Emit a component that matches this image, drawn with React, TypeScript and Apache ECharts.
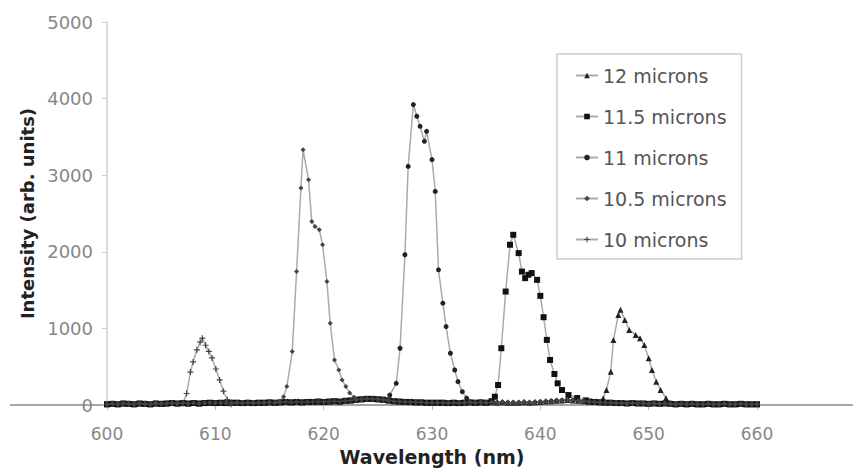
import React, { useEffect, useRef } from "react";
import * as echarts from "echarts";

const seriesNames = ["12 microns", "11.5 microns", "11 microns", "10.5 microns", "10 microns"];

const baselineX = [
  600, 600.5, 601, 601.5, 602, 602.5, 603, 603.5, 604, 604.5, 605, 605.5, 606, 606.5, 607, 607.5,
  608, 608.5, 609, 609.5, 610, 610.5, 611, 611.5, 612, 612.5, 613, 613.5, 614, 614.5, 615, 615.5,
  616, 616.5, 617, 617.5, 618, 618.5, 619, 619.5, 620, 620.5, 621, 621.5, 622, 622.5, 623, 623.5,
  624, 624.5, 625, 625.5, 626, 626.5, 627, 627.5, 628, 628.5, 629, 629.5, 630, 630.5, 631, 631.5,
  632, 632.5, 633, 633.5, 634, 634.5, 635, 635.5, 636, 636.5, 637, 637.5, 638, 638.5, 639, 639.5,
  640, 640.5, 641, 641.5, 642, 642.5, 643, 643.5, 644, 644.5, 645, 645.5, 646, 646.5, 647, 647.5,
  648, 648.5, 649, 649.5, 650, 650.5, 651, 651.5, 652, 652.5, 653, 653.5, 654, 654.5, 655, 655.5,
  656, 656.5, 657, 657.5, 658, 658.5, 659, 659.5, 660,
];
const baselineY = [
  10, 15, 10, 20, 15, 10, 20, 15, 10, 20, 15, 20, 25, 20, 25, 20,
  25, 20, 25, 30, 25, 30, 25, 30, 30, 25, 30, 25, 30, 30, 35, 30,
  35, 40, 35, 40, 35, 40, 40, 45, 40, 45, 50, 45, 55, 60, 70, 75,
  80, 80, 75, 70, 60, 50, 45, 40, 40, 35, 35, 30, 30, 30, 30, 25,
  30, 25, 30, 35, 30, 35, 30, 35, 30, 35, 30, 30, 30, 35, 30, 35,
  40, 45, 50, 55, 60, 65, 60, 55, 50, 45, 40, 35, 30, 30, 25, 25,
  20, 25, 20, 20, 15, 20, 15, 20, 15, 10, 15, 10, 15, 10, 10, 15,
  10, 10, 15, 10, 10, 15, 10, 10, 10,
];

// 12 microns peak (~648 nm)
const peak12X = [645.4, 645.8, 646.1, 646.5, 646.75, 647.2, 647.4, 647.8, 648.2, 648.8, 649.2, 649.6, 650.0, 650.3, 650.7, 651.1, 651.6, 652.0];
const peak12Y = [40, 88, 196, 435, 850, 1176, 1242, 1111, 980, 915, 871, 784, 610, 457, 305, 196, 88, 30];

// 11.5 microns peak (~638 nm)
const peak115X = [635.5, 635.8, 636.1, 636.4, 636.8, 637.2, 637.5, 638.0, 638.3, 638.6, 638.9, 639.2, 639.7, 640.0, 640.3, 640.6, 640.9, 641.3, 641.6, 642.0, 642.6, 643.4, 644.2];
const peak115Y = [50, 108, 261, 741, 1481, 2092, 2222, 1983, 1742, 1656, 1700, 1722, 1634, 1425, 1146, 850, 588, 405, 283, 196, 130, 91, 60];

// 11 microns peak (~628 nm)
const peak11X = [625.8, 626.1, 626.7, 627.05, 627.5, 627.8, 628.28, 628.6, 628.9, 629.3, 629.5, 630.0, 630.3, 630.6, 631.0, 631.3, 631.7, 632.1, 632.4, 632.8, 633.2];
const peak11Y = [60, 130, 283, 741, 1961, 3115, 3922, 3770, 3638, 3442, 3573, 3203, 2788, 1765, 1329, 1024, 676, 457, 305, 174, 90];

// 10.5 microns peak (~618 nm)
const peak105X = [615.9, 616.3, 616.6, 617.1, 617.5, 617.9, 618.1, 618.6, 618.9, 619.2, 619.6, 619.9, 620.3, 620.6, 621.0, 621.4, 621.7, 622.05, 622.4, 622.8];
const peak105Y = [40, 108, 240, 697, 1742, 2832, 3333, 2941, 2396, 2330, 2288, 2092, 1612, 1068, 588, 457, 327, 240, 157, 100];

// 10 microns peak (~609 nm)
const peak10X = [607.0, 607.35, 607.7, 607.95, 608.3, 608.6, 608.8, 609.1, 609.4, 609.7, 610.05, 610.4, 610.75, 611.1, 611.45];
const peak10Y = [20, 150, 430, 562, 720, 820, 872, 780, 700, 614, 470, 327, 180, 70, 10];

const yTicks = [0, 1000, 2000, 3000, 4000, 5000];
const xTicks = [600, 610, 620, 630, 640, 650, 660];

const peaksX = [peak12X, peak115X, peak11X, peak105X, peak10X];
const peaksY = [peak12Y, peak115Y, peak11Y, peak105Y, peak10Y];

const plusPath = "path://M4,0 L6,0 L6,4 L10,4 L10,6 L6,6 L6,10 L4,10 L4,6 L0,6 L0,4 L4,4 Z";
const symbols = ["triangle", "rect", "circle", "diamond", plusPath];
const symbolSizes = [6, 6, 5, 5, 6];
const markerColors = ["#222", "#111", "#222", "#444", "#444"];

function buildData(px: number[], py: number[]) {
  const lo = px[0];
  const hi = px[px.length - 1];
  const pts: number[][] = [];
  baselineX.forEach((x, i) => {
    if (x < lo || x > hi) pts.push([x, baselineY[i]]);
  });
  px.forEach((x, i) => pts.push([x, py[i]]));
  pts.sort((a, b) => a[0] - b[0]);
  return pts;
}

const FONT = "DejaVu Sans";

export default function App() {
  const ref = useRef<HTMLDivElement>(null);
  useEffect(() => {
    if (!ref.current) return;
    const chart = echarts.init(ref.current, undefined, { renderer: "svg" });
    const series = seriesNames.map((name, k) => ({
      name,
      type: "line",
      data: buildData(peaksX[k], peaksY[k]),
      symbol: symbols[k],
      symbolSize: symbolSizes[k],
      showAllSymbol: true,
      lineStyle: { color: "#aaa", width: 1.5 },
      itemStyle: { color: markerColors[k] },
      emphasis: { disabled: true },
      z: 3,
    }));
    chart.setOption({
      animation: false,
      backgroundColor: "#fff",
      grid: { left: 99, right: 104, top: 14, bottom: 68, containLabel: false, outerBoundsMode: "none" },
      legend: {
        orient: "vertical",
        left: 549,
        top: 46,
        padding: [12, 15, 10, 18],
        itemGap: 22,
        itemWidth: 22,
        itemHeight: 7,
        borderColor: "#ccc",
        borderWidth: 1.5,
        data: seriesNames,
        textStyle: { color: "#555", fontSize: 19, fontFamily: FONT },
      },
      xAxis: {
        type: "value",
        min: xTicks[0],
        max: xTicks[xTicks.length - 1],
        interval: 10,
        axisLine: { show: false },
        axisTick: { show: true, length: 5, lineStyle: { color: "#bbb" } },
        axisLabel: { color: "#888", fontSize: 17, fontFamily: FONT, margin: 20 },
        splitLine: { show: false },
        name: "Wavelength (nm)",
        nameLocation: "middle",
        nameGap: 42,
        nameTextStyle: { fontWeight: "bold", fontSize: 19, color: "#222", fontFamily: FONT },
      },
      yAxis: {
        type: "value",
        min: yTicks[0],
        max: yTicks[yTicks.length - 1],
        interval: 1000,
        axisLine: { show: true, lineStyle: { color: "#ccc", width: 1.5 } },
        axisTick: { show: true, length: 5, lineStyle: { color: "#ccc" } },
        axisLabel: { color: "#888", fontSize: 18, fontFamily: FONT, margin: 14, formatter: (v: number) => String(v) },
        splitLine: { show: false },
        name: "Intensity (arb. units)",
        nameLocation: "middle",
        nameGap: 53,
        nameTextStyle: { fontWeight: "bold", fontSize: 18, color: "#222", fontFamily: FONT },
      },
      graphic: [
        {
          type: "line",
          shape: { x1: 2, y1: 397, x2: 853, y2: 397 },
          style: { stroke: "#888", lineWidth: 1.5 },
          z: 0,
        },
      ],
      series,
    });
    return () => chart.dispose();
  }, []);
  return <div ref={ref} style={{ width: 853, height: 465 }} />;
}
